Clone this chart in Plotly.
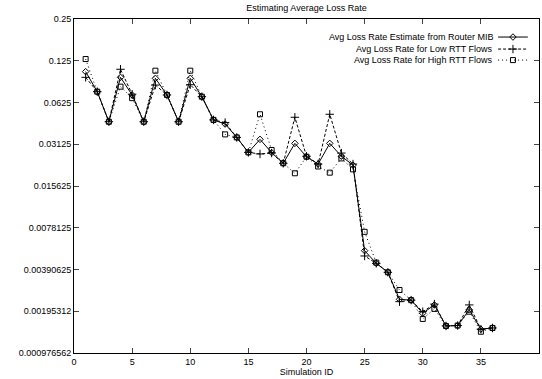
import plotly.graph_objects as go

sim_id = list(range(1, 37))
mib = [0.1043, 0.0748, 0.0454, 0.0949, 0.0708, 0.0454, 0.0934, 0.0708, 0.0454, 0.0934,
       0.0688, 0.0468, 0.0437, 0.0350, 0.0273, 0.0339, 0.0272, 0.0228, 0.0317, 0.0254,
       0.0225, 0.0317, 0.0256, 0.0221, 0.00534, 0.00433, 0.00373, 0.00238, 0.00235, 0.00189,
       0.00217, 0.00153, 0.00154, 0.00200, 0.00145, 0.00148]
low_rtt = [0.0949, 0.0748, 0.0454, 0.1085, 0.0717, 0.0454, 0.0835, 0.0708, 0.0454, 0.0840,
           0.0688, 0.0468, 0.0448, 0.0350, 0.0273, 0.0266, 0.0270, 0.0228, 0.0489, 0.0256,
           0.0225, 0.0514, 0.0270, 0.0225, 0.00489, 0.00433, 0.00373, 0.00229, 0.00235, 0.00194,
           0.00220, 0.00153, 0.00154, 0.00217, 0.00145, 0.00148]
high_rtt = [0.1286, 0.0748, 0.0454, 0.0813, 0.0672, 0.0454, 0.1060, 0.0708, 0.0454, 0.1060,
            0.0688, 0.0468, 0.0368, 0.0350, 0.0273, 0.0514, 0.0284, 0.0228, 0.0193, 0.0254,
            0.0216, 0.0195, 0.0247, 0.0206, 0.00730, 0.00438, 0.00373, 0.00278, 0.00235, 0.00172,
            0.00203, 0.00153, 0.00154, 0.00194, 0.00139, 0.00148]

series_names = ["Avg Loss Rate Estimate from Router MIB",
                "Avg Loss Rate for Low RTT Flows",
                "Avg Loss Rate for High RTT Flows"]
y_tick_vals = [0.25, 0.125, 0.0625, 0.03125, 0.015625, 0.0078125, 0.00390625, 0.001953125, 0.0009765625]
y_tick_text = ["0.25", "0.125", "0.0625", "0.03125", "0.015625", "0.0078125", "0.00390625", "0.00195312", "0.000976562"]
x_tick_vals = [0, 5, 10, 15, 20, 25, 30, 35, 40]

FONT = "Liberation Sans, Arial, sans-serif"
styles = [
    dict(dash="solid", symbol="diamond-open", size=5),
    dict(dash="3px,2px", symbol="cross-thin-open", size=6),
    dict(dash="1px,3px", symbol="square-open", size=5),
]

fig = go.Figure()
for name, ys, st in zip(series_names, [mib, low_rtt, high_rtt], styles):
    fig.add_trace(go.Scatter(
        x=sim_id, y=ys, mode="lines+markers", name=name,
        line=dict(color="black", width=1, dash=st["dash"]),
        marker=dict(symbol=st["symbol"], size=st["size"], color="black",
                    line=dict(color="black", width=1)),
        showlegend=False))

# gnuplot-style key: right-aligned text with sample to the right
key_y = [0.946, 0.910, 0.877]
for name, st, ky in zip(series_names, styles, key_y):
    fig.add_trace(go.Scatter(
        x=[0.912, 0.944, 0.976], y=[ky, ky, ky], xaxis="x2", yaxis="y2",
        mode="lines", line=dict(color="black", width=1, dash=st["dash"]),
        showlegend=False, hoverinfo="skip"))
    fig.add_trace(go.Scatter(
        x=[0.944], y=[ky], xaxis="x2", yaxis="y2", mode="markers",
        marker=dict(symbol=st["symbol"], size=st["size"], color="black",
                    line=dict(color="black", width=1)),
        showlegend=False, hoverinfo="skip"))
    fig.add_annotation(x=0.905, y=ky, xref="x2", yref="y2", text=name,
                       showarrow=False, xanchor="right", yanchor="middle",
                       font=dict(family=FONT, size=9, color="black"))

fig.update_layout(
    width=542, height=379,
    margin=dict(l=74, r=3, t=19, b=26),
    paper_bgcolor="white", plot_bgcolor="white",
    font=dict(family=FONT, size=9, color="black"),
    title=dict(text="Estimating Average Loss Rate", x=0.5, xref="paper",
               y=1 - 8 / 379, yanchor="middle", font=dict(family=FONT, size=9)),
    xaxis=dict(range=[0, 40], tickvals=x_tick_vals, ticks="inside", ticklen=5,
               showline=True, linecolor="black", linewidth=1, mirror="allticks",
               showgrid=False, zeroline=False,
               title=dict(text="Simulation ID", standoff=0, font=dict(size=9))),
    yaxis=dict(type="log", range=[-3.0103, -0.60206], tickvals=y_tick_vals,
               ticktext=y_tick_text, ticks="inside", ticklen=5,
               showline=True, linecolor="black", linewidth=1, mirror="allticks",
               showgrid=False, zeroline=False),
    xaxis2=dict(overlaying="x", range=[0, 1], visible=False),
    yaxis2=dict(overlaying="y", range=[0, 1], visible=False),
)

fig.write_html("out.html")
